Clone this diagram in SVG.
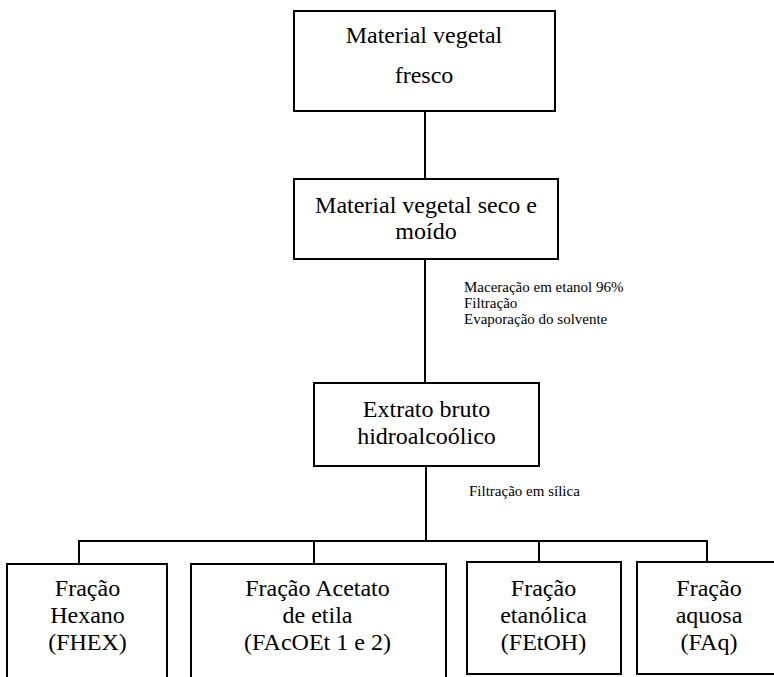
<svg xmlns="http://www.w3.org/2000/svg" width="774" height="677" viewBox="0 0 774 677">
  <style>
    .box { fill: #ffffff; stroke: #000000; stroke-width: 2; }
    .link { fill: none; stroke: #000000; stroke-width: 2; }
    .t { font-family: "Liberation Serif", "Times New Roman", serif; font-size: 24px; fill: #000000; text-anchor: middle; }
    .note { font-family: "Liberation Serif", "Times New Roman", serif; font-size: 15px; fill: #000000; }
  </style>
  <rect width="774" height="677" fill="#ffffff"/>

  <!-- connectors -->
  <g id="connectors">
    <line class="link" x1="425" y1="111" x2="425" y2="179"/>
    <line class="link" x1="425" y1="259" x2="425" y2="383"/>
    <line class="link" x1="426" y1="466" x2="426" y2="541"/>
    <line class="link" x1="78" y1="541" x2="708" y2="541"/>
    <line class="link" x1="79" y1="541" x2="79" y2="564"/>
    <line class="link" x1="314" y1="541" x2="314" y2="564"/>
    <line class="link" x1="539" y1="541" x2="539" y2="562"/>
    <line class="link" x1="707" y1="541" x2="707" y2="562"/>
  </g>

  <!-- step labels -->
  <g id="labels">
    <text class="note" x="464" y="292">Maceração em etanol 96%</text>
    <text class="note" x="464" y="308">Filtração</text>
    <text class="note" x="464" y="324">Evaporação do solvente</text>
    <text class="note" x="469" y="496">Filtração em sílica</text>
  </g>

  <g id="fresco">
    <rect class="box" x="294" y="11" width="261" height="100"/>
    <text class="t" x="424" y="43">Material vegetal</text>
    <text class="t" x="424" y="83">fresco</text>
  </g>

  <g id="seco">
    <rect class="box" x="294" y="179" width="264" height="80"/>
    <text class="t" x="426" y="213">Material vegetal seco e</text>
    <text class="t" x="426" y="239">moído</text>
  </g>

  <g id="extrato">
    <rect class="box" x="314" y="383" width="225" height="83"/>
    <text class="t" x="426.5" y="417">Extrato bruto</text>
    <text class="t" x="426.5" y="444">hidroalcoólico</text>
  </g>

  <g id="fhex">
    <rect class="box" x="7" y="564" width="160" height="120"/>
    <text class="t" x="87.5" y="596">Fração</text>
    <text class="t" x="87.5" y="623">Hexano</text>
    <text class="t" x="87.5" y="650">(FHEX)</text>
  </g>

  <g id="facoet">
    <rect class="box" x="191" y="564" width="255" height="120"/>
    <text class="t" x="317.5" y="596">Fração Acetato</text>
    <text class="t" x="317.5" y="623">de etila</text>
    <text class="t" x="317.5" y="650">(FAcOEt 1 e 2)</text>
  </g>

  <g id="fetoh">
    <rect class="box" x="467" y="562" width="154" height="112"/>
    <text class="t" x="543.5" y="596">Fração</text>
    <text class="t" x="543.5" y="623">etanólica</text>
    <text class="t" x="543.5" y="650">(FEtOH)</text>
  </g>

  <g id="faq">
    <rect class="box" x="637" y="562" width="144" height="112"/>
    <text class="t" x="709" y="596">Fração</text>
    <text class="t" x="709" y="623">aquosa</text>
    <text class="t" x="709" y="650">(FAq)</text>
  </g>
</svg>
